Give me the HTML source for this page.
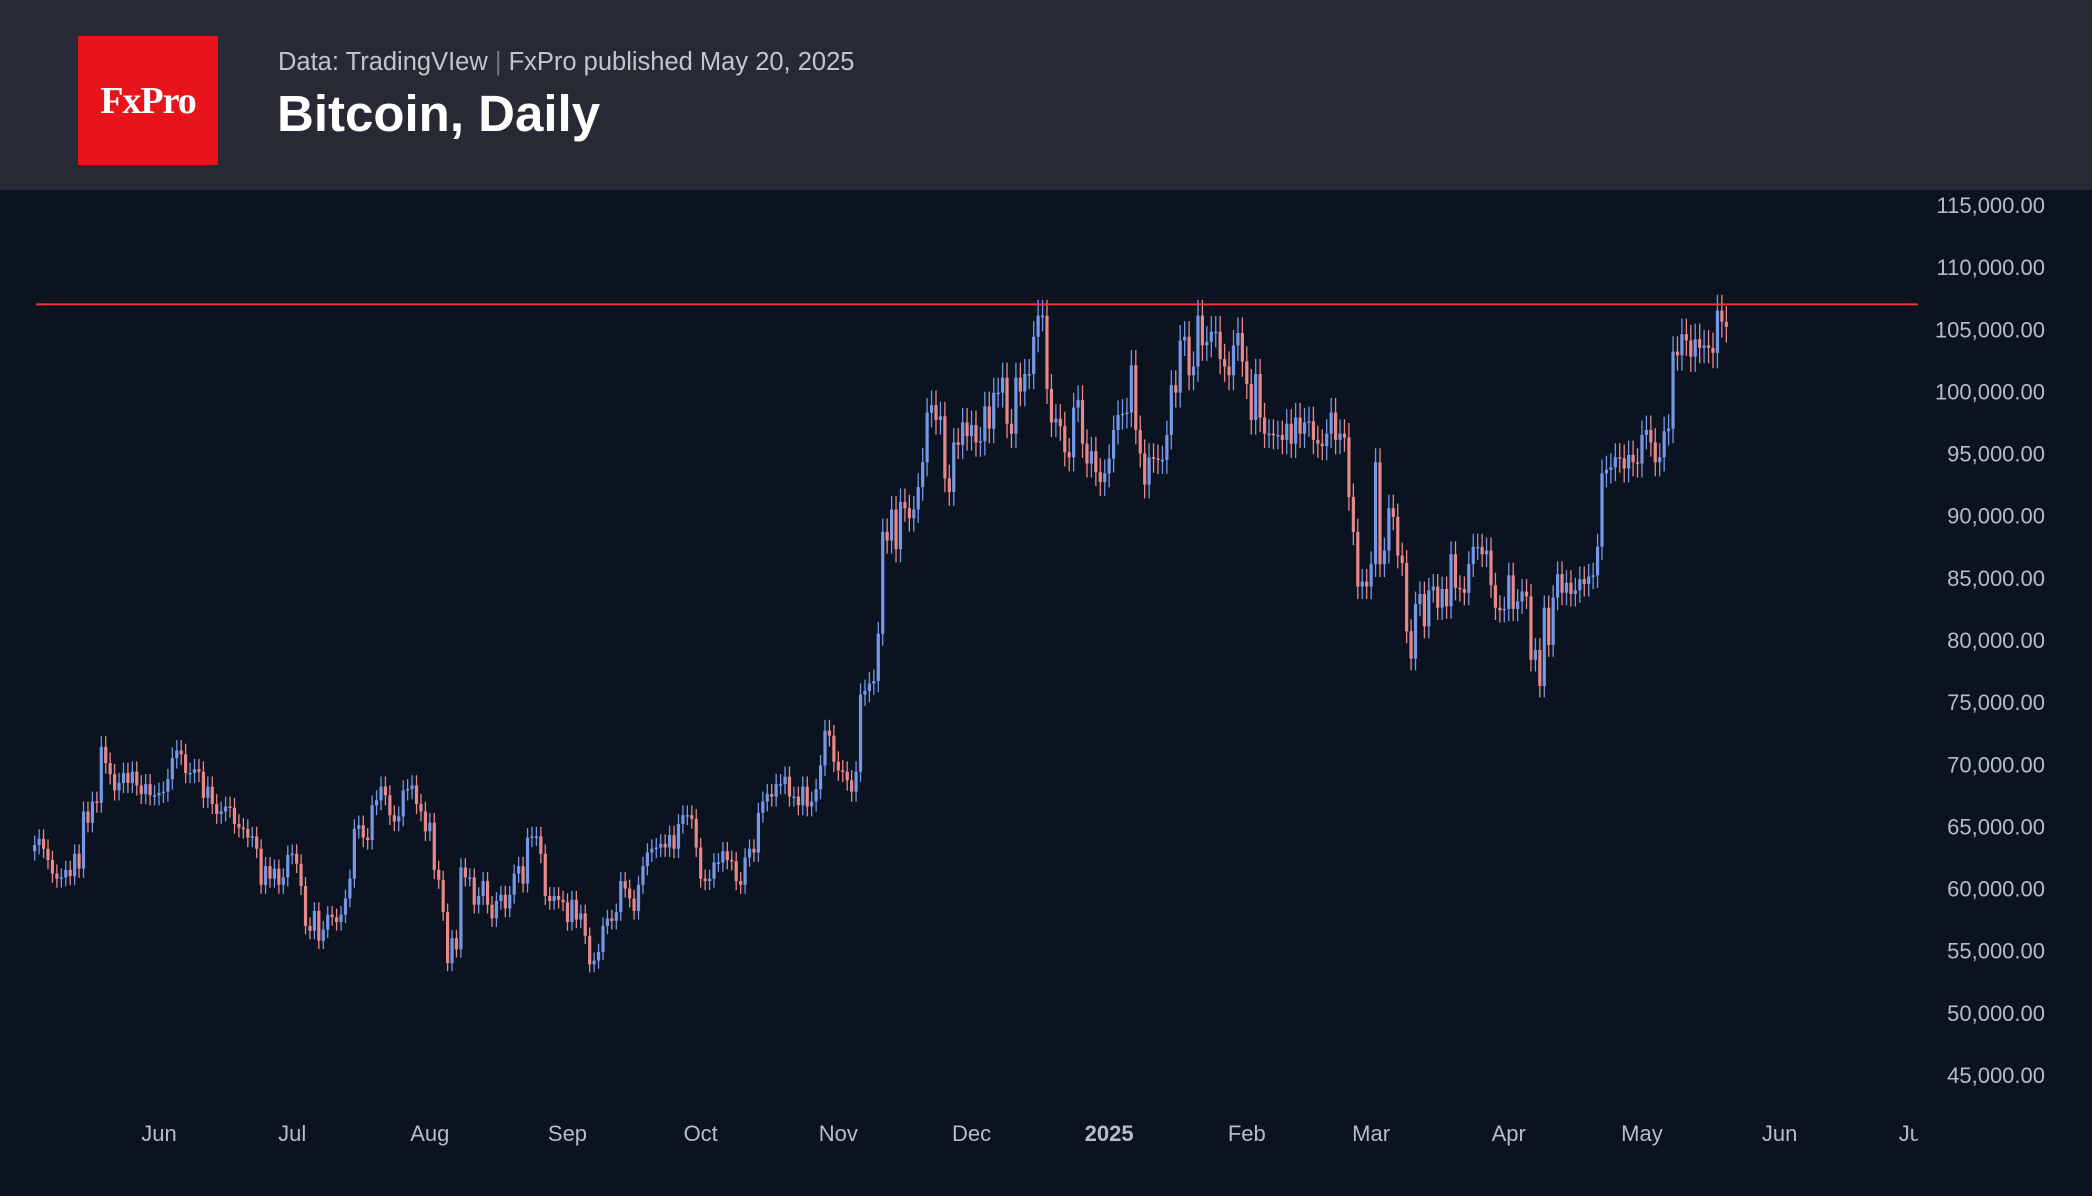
<!DOCTYPE html>
<html><head><meta charset="utf-8">
<style>
html,body{margin:0;padding:0;background:#0b1220;}
body{width:2092px;height:1196px;overflow:hidden;position:relative;font-family:"Liberation Sans",sans-serif;}
#header{position:absolute;left:0;top:0;width:2092px;height:190px;background:#272a35;}
#logo{position:absolute;left:78px;top:36px;width:140px;height:129px;background:#e8131b;color:#fff;font-family:"Liberation Serif",serif;font-size:38px;font-weight:bold;display:flex;align-items:center;justify-content:center;letter-spacing:-1px;}
#sub{position:absolute;left:278px;top:48px;color:#c2c5cc;font-size:25.5px;}
#title{position:absolute;left:277px;top:84px;color:#fff;font-size:51px;font-weight:bold;}
svg{position:absolute;left:0;top:0;}
</style></head><body>
<div id="header">
<div id="logo">FxPro</div>
<div id="sub">Data: TradingVIew <span style="color:#777">|</span> FxPro published May 20, 2025</div>
<div id="title">Bitcoin, Daily</div>
</div>
<svg id="chart" width="2092" height="1196">
<defs><clipPath id="plotclip"><rect x="0" y="190" width="1918" height="1006"/></clipPath></defs>
</svg>
<script>
const closes=[63.5,64.0,63.2,62.3,61.2,60.8,60.9,61.5,61.0,62.8,61.6,66.2,65.3,67.0,66.9,71.4,70.1,69.2,67.9,68.5,69.3,68.5,69.4,68.3,67.6,68.4,67.5,67.5,
67.7,67.8,68.8,70.5,71.1,70.8,69.3,69.3,69.6,69.4,67.3,68.2,66.8,66.0,66.2,66.6,66.5,65.2,64.9,64.8,64.1,64.2,63.2,60.3,61.8,60.8,61.6,60.3,60.9,62.7,
62.8,62.0,60.2,57.0,56.6,58.2,55.8,56.7,57.9,57.7,57.3,57.9,59.2,60.8,64.8,65.1,64.1,63.9,66.7,67.1,68.2,67.5,65.9,65.4,65.8,67.9,68.0,68.3,66.8,66.2,64.6,
65.3,61.5,60.7,58.1,54.0,56.0,55.1,61.7,60.9,60.9,58.7,59.4,60.6,58.7,57.6,59.0,59.5,58.4,59.5,61.2,61.8,60.4,64.1,64.2,64.2,62.8,59.4,59.0,59.4,59.1,58.9,
57.3,59.1,57.5,58.0,56.2,53.9,54.2,54.9,57.0,57.6,57.4,58.1,60.6,60.0,59.2,58.2,60.3,61.8,62.9,63.2,63.3,63.6,63.3,64.3,63.2,65.2,65.9,65.9,65.6,63.3,
60.8,60.6,60.8,62.1,62.1,63.0,62.3,62.2,60.6,60.3,62.5,63.2,62.9,66.1,67.0,67.6,67.4,68.4,68.4,69.0,67.4,67.4,66.7,68.2,66.6,67.0,68.0,69.9,72.7,72.3,70.2,
69.5,69.4,68.7,67.8,69.4,75.6,75.9,76.5,76.7,80.5,88.7,88.0,90.5,87.3,91.1,90.6,89.8,90.5,92.3,94.3,98.3,98.9,97.7,98.0,93.0,91.9,95.9,95.7,97.5,96.4,
97.3,95.9,96.0,98.8,97.0,99.9,99.9,101.1,97.4,96.6,101.1,100.0,101.4,101.4,104.4,106.1,106.1,100.2,97.5,97.8,97.2,95.1,94.7,98.7,99.3,95.8,94.2,95.2,93.5,92.7,93.4,
94.6,96.9,98.1,98.2,98.3,102.1,96.9,95.0,92.5,94.7,94.6,94.5,94.5,96.5,100.5,99.9,104.1,104.4,101.3,102.0,106.1,103.7,104.0,104.8,104.8,102.6,102.0,101.3,103.7,104.7,102.4,
100.6,97.7,101.4,97.9,96.6,96.6,96.5,96.5,96.1,97.4,95.8,97.9,96.6,97.5,97.6,96.1,95.8,95.6,96.6,98.3,96.1,96.6,96.3,91.5,88.7,84.3,84.7,84.3,
86.1,94.3,86.1,87.2,90.6,89.9,86.8,86.2,80.7,78.5,82.9,83.7,81.1,84.0,84.3,82.6,84.1,82.7,86.9,84.2,84.1,83.8,86.1,87.5,87.5,86.9,87.2,84.4,82.6,82.4,82.5,
85.2,82.5,83.1,83.9,83.5,78.4,79.2,76.3,82.6,79.6,83.4,85.3,83.8,84.6,83.7,84.0,84.9,84.5,85.1,85.2,87.5,93.4,93.7,93.9,94.7,94.6,93.8,94.9,94.3,94.2,
96.5,96.9,95.9,94.3,94.7,96.8,97.0,103.2,102.9,104.6,104.1,102.8,104.2,103.5,103.7,103.5,103.1,106.5,105.6,105.2];
const firstOpen=63.0;
const yTicks=[115,110,105,100,95,90,85,80,75,70,65,60,55,50,45];
const monthLabels=["Jun","Jul","Aug","Sep","Oct","Nov","Dec","2025","Feb","Mar","Apr","May","Jun","Jul"];
const monthDayIdx=[28,58,89,120,150,181,211,242,273,301,332,362,393,423];
const resistance=107;

const NS="http://www.w3.org/2000/svg";
const svg=document.getElementById('chart');
function xs(i){return 159+(i-28)*4.44;}
function ys(p){return 205+(115-p)/5*62.14;}
function mk(t,a,parent){const e=document.createElementNS(NS,t);for(const k in a)e.setAttribute(k,a[k]);(parent||svg).appendChild(e);return e;}
yTicks.forEach(v=>{
  const t=mk('text',{x:2045,y:ys(v)+8,'text-anchor':'end',fill:'#b8bcc6','font-size':22,'font-family':'Liberation Sans'});
  t.textContent=(v*1000).toLocaleString('en-US')+'.00';
  
  
});
const xg=mk('g',{'clip-path':'url(#plotclip)'});


monthLabels.forEach((m,i)=>{
  const t=mk('text',{x:xs(monthDayIdx[i]),y:1141,'text-anchor':'middle',fill:'#b8bcc6','font-size':22,'font-weight':m==='2025'?'bold':'normal','font-family':'Liberation Sans'},xg);
  t.textContent=m;
  
  
});
let prev=firstOpen;
closes.forEach((c,i)=>{
  const o=prev;prev=c;
  const hi=Math.max(o,c)*1.012,lo=Math.min(o,c)*0.988;
  const up=c>=o,col=up?'#7598e6':'#e88888';
  const x=xs(i);
  const w=mk('line',{x1:x,x2:x,y1:ys(hi),y2:ys(lo),stroke:col,'stroke-width':1.3});
  
  
  const top=ys(Math.max(o,c)),h=Math.max(1.5,ys(Math.min(o,c))-top);
  const r=mk('rect',{x:x-1.6,y:top,width:3.2,height:h,fill:col});
  
  
});
const rl=mk('line',{x1:36,x2:1918,y1:ys(resistance),y2:ys(resistance),stroke:'#f0363f','stroke-width':2});


</script>
</body></html>
